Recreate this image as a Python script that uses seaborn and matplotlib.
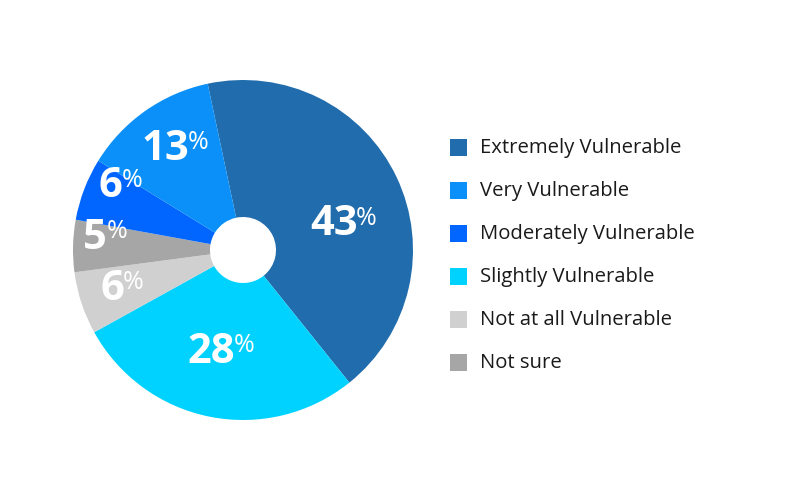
import matplotlib.pyplot as plt
import numpy as np
import seaborn as sns
from matplotlib.patches import Rectangle

categories = ["Extremely Vulnerable", "Slightly Vulnerable", "Not at all Vulnerable",
              "Not sure", "Moderately Vulnerable", "Very Vulnerable"]
shares = [43, 28, 6, 5, 6, 13]
colors = ["#206cac", "#00d2ff", "#d0d0d0", "#a6a6a6", "#0066ff", "#0a90f8"]

legend_order = ["Extremely Vulnerable", "Very Vulnerable", "Moderately Vulnerable",
                "Slightly Vulnerable", "Not at all Vulnerable", "Not sure"]

# label placement: fraction of radius, plus a small nudge in pixels (x right, y down)
label_r = [0.62, 0.60, 0.74, 0.82, 0.84, 0.76]
label_nudge = [(4, 20), (-3, 2), (-3, 0), (0, -8), (9, -12), (5, 5)]

sns.set_theme(style="white")
plt.rcParams["font.family"] = ["Open Sans", "DejaVu Sans"]

fig = plt.figure(figsize=(8, 5.01), dpi=100)
ax = fig.add_axes([(243 - 170) / 800, (251 - 170) / 501, 340 / 800, 340 / 501])

wedges, _ = ax.pie(shares, colors=colors, startangle=102, counterclock=False,
                   radius=1, wedgeprops=dict(width=1 - 33 / 170, linewidth=0))
ax.set_xlim(-1, 1)
ax.set_ylim(-1, 1)
ax.set_aspect("equal")
ax.axis("off")

px = 1 / 170  # one pixel in data units
for w, val, r, (nx, ny) in zip(wedges, shares, label_r, label_nudge):
    mid = np.deg2rad((w.theta1 + w.theta2) / 2)
    x = r * np.cos(mid) + nx * px - 0.05
    y = r * np.sin(mid) - ny * px
    num = ax.text(x, y, str(val), color="white", fontsize=30,
                  fontweight="bold", ha="center", va="center")
    ax.annotate("%", xy=(0.97, 0.97), xycoords=num, color="white",
                fontsize=18, ha="left", va="top")

# legend
by_name = dict(zip(categories, colors))
for i, name in enumerate(legend_order):
    yc = 147 + i * 43
    fig.add_artist(Rectangle((450 / 800, (501 - yc - 8.5) / 501), 17 / 800, 17 / 501,
                             transform=fig.transFigure, color=by_name[name], lw=0))
    fig.text(480 / 800, (501 - yc - 1) / 501, name, fontsize=14.6, color="#1a1a1a",
             ha="left", va="center")

fig.savefig("out.png", dpi=100, facecolor="white")
plt.close(fig)
